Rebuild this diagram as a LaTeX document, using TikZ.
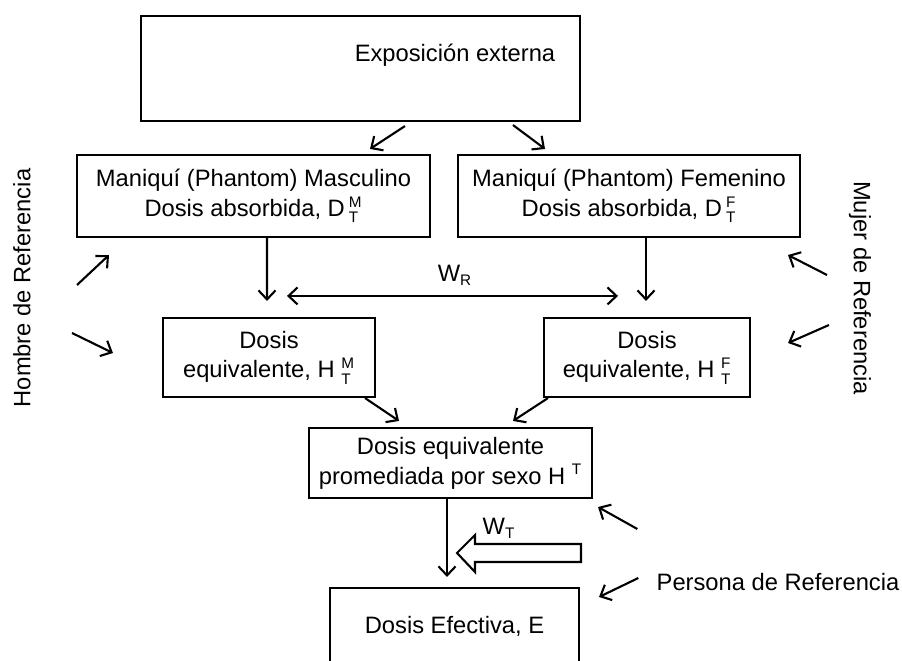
\documentclass[tikz,border=0pt]{standalone}
\usepackage{fontspec}
\setmainfont{Liberation Sans}
\usepackage{tikz}
\usetikzlibrary{calc, arrows.meta}

\newcommand{\idxfont}{\fontsize{8.7}{9}\selectfont}
\newcommand{\supsub}[2]{$^{\mbox{\idxfont #1}}_{\mbox{\idxfont #2}}$}

\begin{document}
\begin{tikzpicture}[x=0.02cm, y=-0.02cm,
        every node/.style={font=\fontsize{13.5}{17}\selectfont},
        caja/.style={draw, line width=1.2pt, align=center, inner sep=0pt},
        flecha/.style={line width=1.2pt, -{Straight Barb[length=1.8mm, width=3.4mm]}},
        doble/.style={line width=1.2pt, {Straight Barb[length=1.8mm, width=3.4mm]}-{Straight Barb[length=1.8mm, width=3.4mm]}}]
    \useasboundingbox (0,0) rectangle (902,661);

    \node [caja, minimum width=8.78cm, minimum height=2.1cm] (exp) at (360.5,68.5) {};
    \node (exptxt) at (455,55) {Exposición externa};

    \node [caja, minimum width=7.06cm, minimum height=1.64cm] (masc) at (253.5,196) {Maniquí (Phantom) Masculino\\Dosis absorbida, D\,\supsub{M}{T}};
    \node [caja, minimum width=6.84cm, minimum height=1.64cm] (fem) at (629,196) {Maniquí (Phantom) Femenino\\Dosis absorbida, D\,\supsub{F}{T}};

    \node [caja, minimum width=4.24cm, minimum height=1.58cm] (hm) at (269,357.5) {Dosis\\equivalente, H\ \supsub{M}{T}};
    \node [caja, minimum width=4.12cm, minimum height=1.58cm] (hf) at (647,357.5) {Dosis\\equivalente, H\ \supsub{F}{T}};

    \node [caja, minimum width=5.66cm, minimum height=1.4cm] (hprom) at (450.5,463) {Dosis equivalente\\promediada por sexo H\ $^{\mbox{\idxfont T}}$};
    \node [caja, minimum width=4.98cm, minimum height=1.54cm] (eff) at (454.5,626.5) {Dosis Efectiva, E};

    \node [rotate=90, inner sep=0pt] (hombre) at (22,288) {Hombre de Referencia};
    \node [rotate=-90, inner sep=0pt] (mujer) at (860,288) {Mujer de Referencia};
    \node [inner sep=0pt] (persona) at (778,582) {Persona de Referencia};

    \node (wr) at (455,275) {W$_{\mbox{\idxfont R}}$};
    \node (wt) at (499,528) {W$_{\mbox{\idxfont T}}$};

    \draw [flecha] ($(exp.south)+(44.5,4)$) -- ($(masc.north)+(116.5,-5)$);
    \draw [flecha] ($(exp.south)+(152.5,3)$) -- ($(fem.north)+(-84,-5)$);
    \draw [flecha] ($(masc.south)+(13.5,0)$) -- ($(hm.north)+(-2,-16)$);
    \draw [flecha] ($(fem.south)+(17,0)$) -- ($(hf.north)+(-1,-16)$);
    \draw [doble] ($(hm.north)+(18,-21)$) -- ($(hf.north)+(-29,-21)$);
    \draw [flecha] ($(hm.south)+(96,0)$) -- ($(hprom.north)+(-51.5,-6)$);
    \draw [flecha] ($(hf.south)+(-99,0)$) -- ($(hprom.north)+(62.5,-6)$);
    \draw [flecha] ($(hprom.south)+(-3.5,0)$) -- ($(eff.north)+(-7.5,-10)$);

    \draw [line width=1.2pt, fill=white] (457,553) -- (475,535) -- (475,544) -- (581,544) -- (581,562) -- (475,562) -- (475,572) -- cycle;

    \draw [flecha] ($(persona.west)+(-19,-53)$) -- ($(hprom.east)+(5,44)$);
    \draw [flecha] ($(persona.west)+(-18,-4)$) -- ($(eff.east)+(19,-29.5)$);
    \draw [flecha] ($(hombre.center)+(55,-3)$) -- ($(masc.south west)+(33,17)$);
    \draw [flecha] ($(hombre.center)+(50,45)$) -- ($(hm.west)+(-49,-4.5)$);
    \draw [flecha] ($(mujer.center)+(-33,-13)$) -- ($(fem.south east)+(-13,17)$);
    \draw [flecha] ($(mujer.center)+(-31,37)$) -- ($(hf.east)+(37,-14.5)$);
\end{tikzpicture}
\end{document}
